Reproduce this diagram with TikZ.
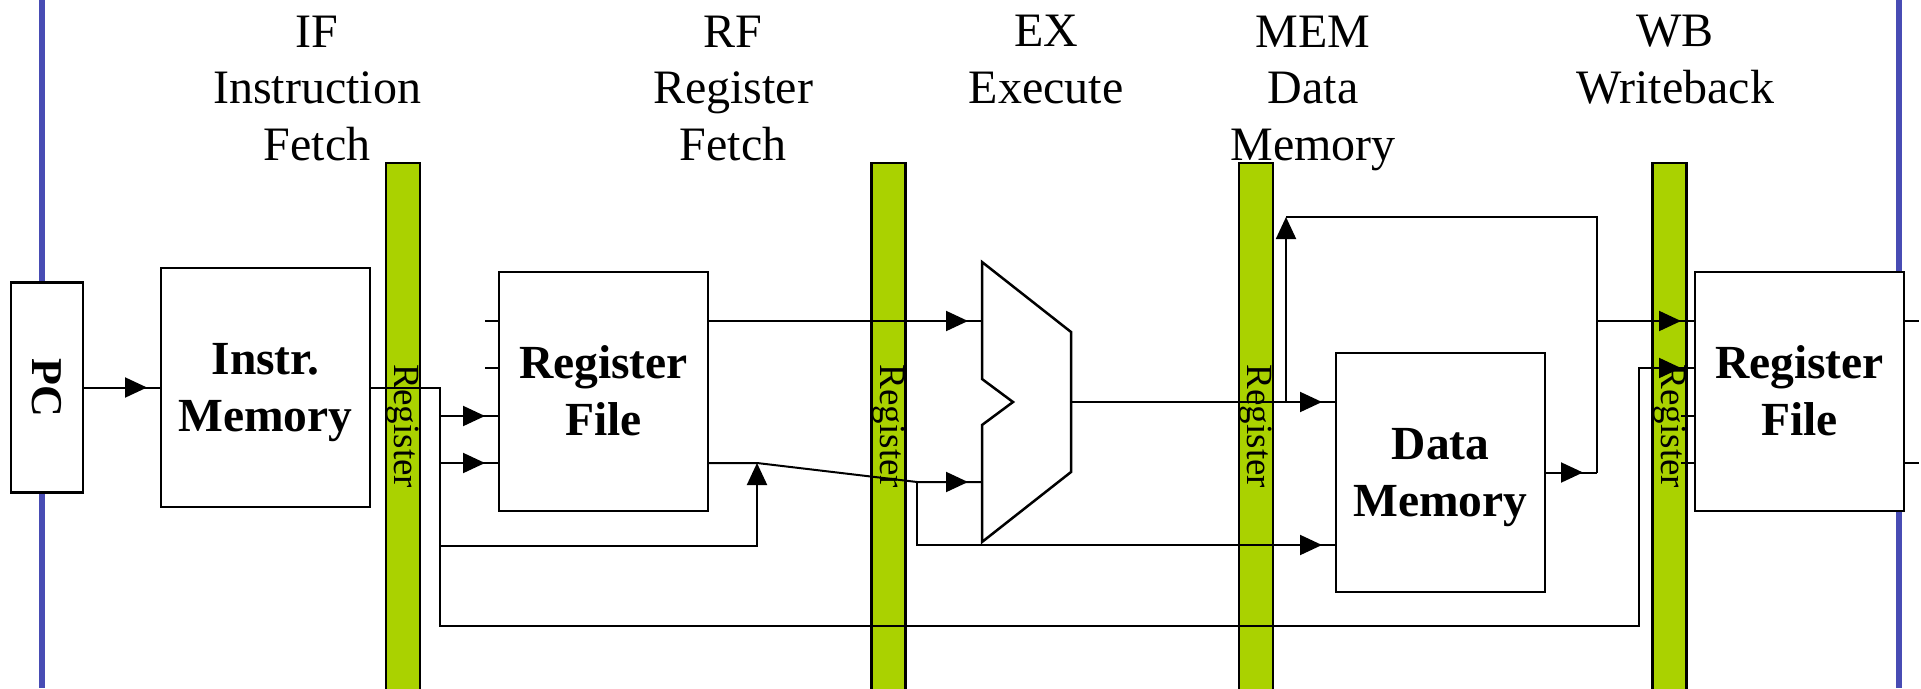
\documentclass[tikz,border=0pt]{standalone}
\usepackage{fontspec}
\usepackage{graphicx}
\setmainfont{Liberation Serif}
\usetikzlibrary{arrows.meta, calc, decorations.markings}

\definecolor{slideblue}{RGB}{72,76,180}
\definecolor{latchgreen}{RGB}{170,210,0}

\begin{document}
\begin{tikzpicture}[
  x=1pt, y=-1pt,
  line width=2pt,
  endarr/.style={-{Triangle[length=22pt, width=20pt]}},
  arr/.style={postaction={decorate}, decoration={markings,
    mark=at position -14pt with {\arrow{Triangle[length=22pt, width=20pt]}}}},
  blk/.style={rectangle, draw, line width=2.7pt, fill=white, inner sep=0pt, outer sep=0pt},
  box/.style={blk, minimum width=209pt, minimum height=239pt, align=center,
    text height=100pt, text depth=12pt, font=\fontsize{47.5}{57}\selectfont\bfseries},
  latch/.style={rectangle, draw, line width=2.7pt, fill=latchgreen, inner sep=0pt,
    minimum width=34pt, minimum height=527pt, font=\fontsize{37}{44}\selectfont},
  stage/.style={align=center, anchor=base, font=\fontsize{48}{56.5}\selectfont},
]
\useasboundingbox (0,0) rectangle (1921,688);

% Slide frame
\draw[slideblue, line width=6pt] (42,0) -- (42,688);
\draw[slideblue, line width=6pt] (1898.5,0) -- (1898.5,688);

% Stage titles (base = last line)
\node[stage] (if) at (317,160) {IF\\Instruction\\Fetch};
\node[stage] (rf) at (733,160) {RF\\Register\\Fetch};
\node[stage] (ex) at (1046,103) {EX\\Execute};
\node[stage] (mem) at (1313,160) {MEM\\Data\\Memory};
\node[stage] (wb) at (1675,103) {WB\\Writeback};

% Pipeline registers
\node[latch] (l1) at (403,426.5) {\rotatebox{-90}{Register}};
\node[latch] (l2) at (888.5,426.5) {\rotatebox{-90}{Register}};
\node[latch] (l3) at (1256,426.5) {\rotatebox{-90}{Register}};
\node[latch] (l4) at (1669.5,426.5) {\rotatebox{-90}{Register}};

% Blocks
\node[blk, minimum width=72pt, minimum height=210pt, font=\fontsize{44}{50}\selectfont\bfseries] (pc) at (47,387.5) {\rotatebox{-90}{PC}};
\node[box] (imem) at (265.5,387.5) {Instr.\\Memory};
\node[box] (rf1) at (603.5,391.5) {Register\\File};
\node[box] (dmem) at (1440.5,472.5) {Data\\Memory};
\node[box] (rf2) at (1799.5,391.5) {Register\\File};

% ALU
\node[inner sep=0pt, outer sep=0pt, minimum width=89pt, minimum height=280pt] (alu) at (1026.5,402) {};
\draw[line width=2.5pt] (alu.north west) -- ($(alu.north east)+(0,70)$) -- ($(alu.south east)+(0,-70)$)
  -- (alu.south west) -- ($(alu.west)+(0,23)$) -- ($(alu.west)+(31,0)$) -- ($(alu.west)+(0,-23)$) -- cycle;

% Ports
\coordinate (rf1-i3) at ($(rf1.north west)+(0,144)$);
\coordinate (rf1-i4) at ($(rf1.north west)+(0,191)$);
\coordinate (rf1-o1) at ($(rf1.north east)+(0,49)$);
\coordinate (rf1-o2) at ($(rf1.north east)+(0,191)$);
\coordinate (alu-a) at ($(alu.north west)+(0,59)$);
\coordinate (alu-b) at ($(alu.north west)+(0,220)$);
\coordinate (dmem-a) at ($(dmem.north west)+(0,49)$);
\coordinate (dmem-b) at ($(dmem.north west)+(0,192)$);
\coordinate (rf2-i1) at ($(rf2.north west)+(0,49)$);
\coordinate (rf2-i2) at ($(rf2.north west)+(0,96)$);

% Unused ports
\draw ($(rf1.north west)+(-14,49)$) -- ++(14,0);
\draw ($(rf1.north west)+(-14,96)$) -- ++(14,0);
\draw ($(rf2.north west)+(-14,144)$) -- ++(14,0);
\draw ($(rf2.north west)+(-14,191)$) -- ++(14,0);
\draw ($(rf2.north east)+(0,49)$) -- ++(15,0);
\draw ($(rf2.north east)+(0,191)$) -- ++(15,0);

% Fetch
\coordinate (ir) at ($(imem.east)+(69.5,0)$);
\coordinate (bus) at ($(ir)+(0,238.5)$);
\draw[arr] (pc.east) -- (imem.west);
\draw[arr] (imem.east) -- (ir) -- (bus) -| ($(rf2-i2)+(-56,0)$) -- (rf2-i2);
\draw[arr] (ir |- rf1-i3) -- (rf1-i3);
\draw[arr] (ir |- rf1-i4) -- (rf1-i4);
\draw[endarr] ($(ir)+(0,158.5)$) -| ($(rf1-o2)+(49,0)$);

% Register fetch to execute
\coordinate (opb) at ($(alu-b)+(-65,0)$);
\draw[arr] (rf1-o1) -- (alu-a);
\draw[arr] (rf1-o2) -- ++(49,0) -- (opb) -- (alu-b);
\draw[arr] (opb) |- (dmem-b);

% Execute to memory and writeback
\coordinate (byp) at ($(dmem-a)+(-50,0)$);
\coordinate (wbm) at ($(dmem.east)+(52,0)$);
\draw[arr] (alu.east) -- (dmem-a);
\draw[endarr] (byp) -- ++(0,-185);
\draw ($(byp)+(0,-185)$) -| (wbm);
\draw[arr] (dmem.east) -- (wbm);
\draw[arr] (wbm |- rf2-i1) -- (rf2-i1);

\end{tikzpicture}
\end{document}
